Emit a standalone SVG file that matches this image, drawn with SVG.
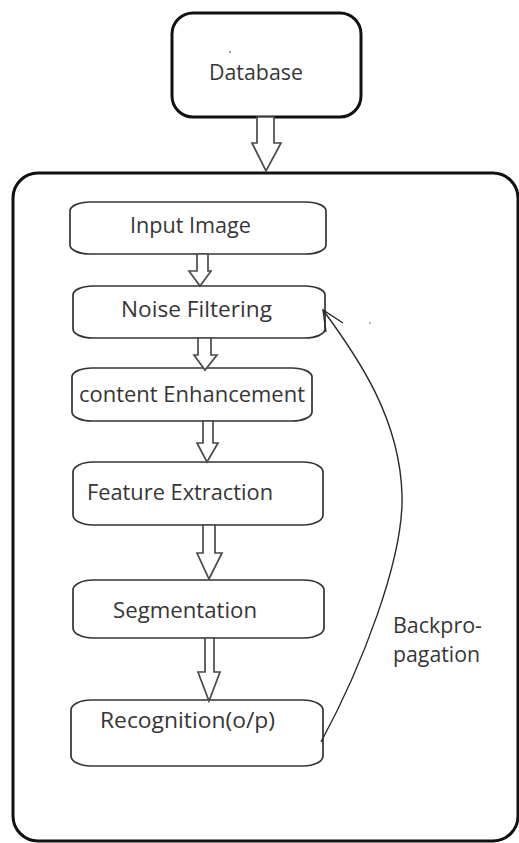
<svg xmlns="http://www.w3.org/2000/svg" width="519" height="843" viewBox="0 0 519 843">
  <style>
    .frame { fill: none; stroke: #111; stroke-width: 3; }
    .step { fill: #fff; stroke: #333; stroke-width: 1.7; }
    .label { font-family: "Open Sans", "Noto Sans", "Liberation Sans", sans-serif; font-size: 21px; fill: #363636; }
    .block { fill: #fff; stroke: #4a4a4a; stroke-width: 1.7; stroke-linejoin: miter; }
    .back { fill: none; stroke: #2a2a2a; stroke-width: 1.4; }
  </style>
  <rect x="0" y="0" width="519" height="843" fill="#fff"/>

  <!-- source -->
  <g id="database">
    <rect class="frame" x="172" y="13" width="189" height="104" rx="21" ry="21"/>
    <circle cx="230" cy="52" r="0.9" fill="#777"/>
    <text class="label" x="209" y="80" textLength="94" lengthAdjust="spacingAndGlyphs">Database</text>
  </g>

  <!-- processing frame -->
  <g id="pipeline">
    <rect class="frame" x="13" y="173" width="505" height="668" rx="25" ry="25"/>
  </g>

  <g id="input-image">
    <rect class="step" x="70" y="202" width="256" height="52" rx="20" ry="9"/>
    <text class="label" x="130" y="233" textLength="121" lengthAdjust="spacingAndGlyphs">Input Image</text>
  </g>

  <g id="noise-filtering">
    <rect class="step" x="73" y="286" width="252" height="52" rx="20" ry="9"/>
    <text class="label" x="121" y="317" textLength="151" lengthAdjust="spacingAndGlyphs">Noise Filtering</text>
  </g>

  <g id="content-enhancement">
    <rect class="step" x="72" y="368" width="240" height="53" rx="20" ry="9"/>
    <text class="label" x="79" y="402" textLength="226" lengthAdjust="spacingAndGlyphs">content Enhancement</text>
  </g>

  <g id="feature-extraction">
    <rect class="step" x="73" y="462" width="250" height="63" rx="20" ry="10"/>
    <text class="label" x="87" y="500" textLength="186" lengthAdjust="spacingAndGlyphs">Feature Extraction</text>
  </g>

  <g id="segmentation">
    <rect class="step" x="73" y="580" width="251" height="58" rx="20" ry="10"/>
    <text class="label" x="113" y="618" textLength="144" lengthAdjust="spacingAndGlyphs">Segmentation</text>
  </g>

  <g id="recognition">
    <rect class="step" x="71" y="700" width="252" height="66" rx="20" ry="10"/>
    <text class="label" x="100" y="728" textLength="175" lengthAdjust="spacingAndGlyphs">Recognition(o/p)</text>
  </g>

  <g id="backprop-label">
    <text class="label" x="393" y="633" textLength="89" lengthAdjust="spacingAndGlyphs">Backpro-</text>
    <text class="label" x="393" y="662" textLength="87" lengthAdjust="spacingAndGlyphs">pagation</text>
  </g>

  <!-- connectors -->
  <g id="connectors">
    <!-- hollow block arrows -->
    <polygon class="block" points="257,117 274,117 274,143 281,143 266,171 252,143 257,143"/>
    <polygon class="block" points="197,254 208,254 208,271 211,271 200,286 189,271 197,271"/>
    <polygon class="block" points="198,338 211,338 211,355 217,355 205,370 194,355 198,355"/>
    <polygon class="block" points="203,421 213,421 213,443 218,443 207,462 197,443 203,443"/>
    <polygon class="block" points="203,525 215,525 215,553 222,553 209,579 197,553 203,553"/>
    <polygon class="block" points="205,638 214,638 214,672 220,672 209,701 198,672 205,672"/>

    <!-- feedback loop -->
    <path class="back" d="M321,742 C360,670 404,560 402,495 C400,420 360,360 323,310"/>
    <path class="back" d="M326,332 L323,310 L343,323"/>
    <circle cx="370" cy="323" r="0.9" fill="#999"/>
  </g>
</svg>
